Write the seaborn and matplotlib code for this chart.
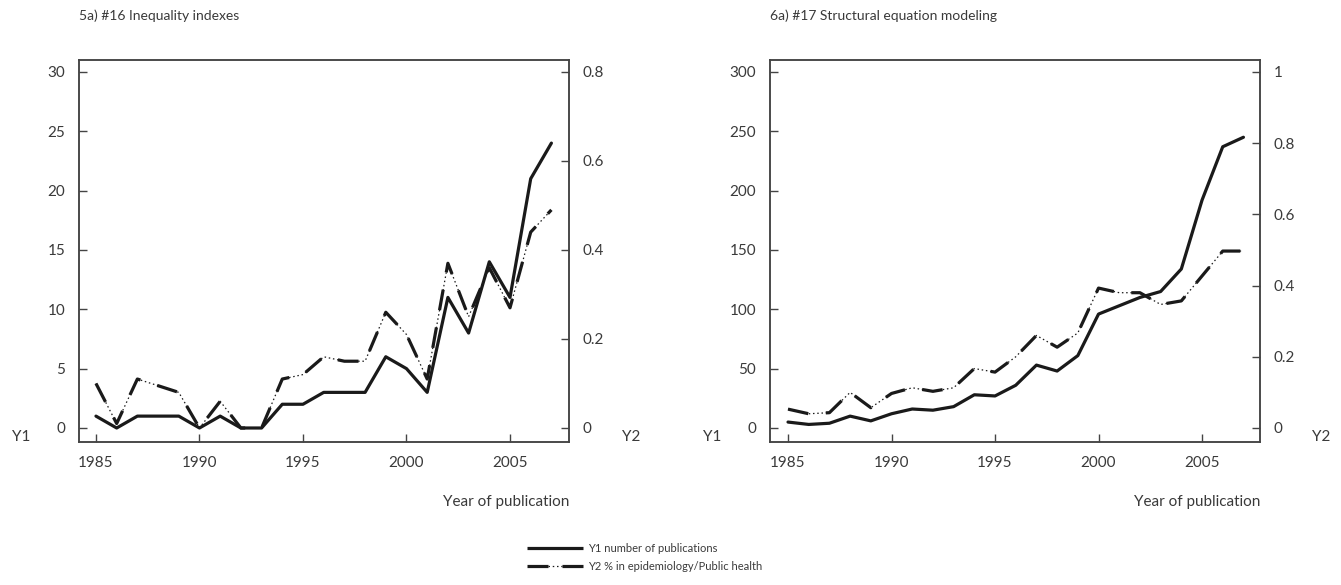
import matplotlib
matplotlib.use("Agg")
import matplotlib.pyplot as plt
import seaborn as sns
import pandas as pd
from matplotlib.lines import Line2D

years = list(range(1985, 2008))

# Panel 5a) #16 Inequality indexes
ineq_y1 = [1, 0, 1, 1, 1, 0, 1, 0, 0, 2, 2, 3, 3, 3, 6, 5, 3, 11, 8, 14, 11, 21, 24]
ineq_y2 = [0.10, 0.01, 0.11, 0.095, 0.08, 0.0, 0.06, 0.0, 0.0, 0.11, 0.12, 0.16, 0.15,
           0.15, 0.26, 0.21, 0.11, 0.37, 0.25, 0.36, 0.27, 0.44, 0.49]

# Panel 6a) #17 Structural equation modeling
sem_y1 = [5, 3, 4, 10, 6, 12, 16, 15, 18, 28, 27, 36, 53, 48, 61, 96, 103, 110, 115,
          134, 192, 237, 245]
sem_y2 = [0.053, 0.04, 0.043, 0.10, 0.057, 0.097, 0.113, 0.103, 0.113, 0.167, 0.157,
          0.20, 0.26, 0.227, 0.267, 0.393, 0.38, 0.38, 0.347, 0.357, 0.427, 0.497, 0.497]

titles = ["5a) #16 Inequality indexes", "6a) #17 Structural equation modeling"]
xlabel = "Year of publication"
legend_labels = ["Y1 number of publications", "Y2 % in epidemiology/Public health"]

sns.set_theme(style="ticks")
plt.rcParams["font.family"] = ["Lato", "DejaVu Sans"]
TXT = "#3a3a3a"
plt.rcParams["text.color"] = TXT
plt.rcParams["xtick.color"] = TXT
plt.rcParams["ytick.color"] = TXT

fig = plt.figure(figsize=(13.41, 5.85), dpi=100)
W, H = 1341, 585


def fx(px):
    return px / W


def fy(py):
    return 1 - py / H


panels = [
    dict(left=79, y1=ineq_y1, y2=ineq_y2, y1lim=(-1.18, 31.0), y1ticks=[0, 5, 10, 15, 20, 25, 30],
         y2lim=(-1.18 / 37.5, 31.0 / 37.5), y2ticks=[0, 0.2, 0.4, 0.6, 0.8],
         y2labels=["0", "0.2", "0.4", "0.6", "0.8"], xlim=(1984.18, 2007.85)),
    dict(left=770, y1=sem_y1, y2=sem_y2, y1lim=(-11.8, 310.1), y1ticks=[0, 50, 100, 150, 200, 250, 300],
         y2lim=(-11.8 / 300, 310.1 / 300), y2ticks=[0, 0.2, 0.4, 0.6, 0.8, 1.0],
         y2labels=["0", "0.2", "0.4", "0.6", "0.8", "1"], xlim=(1984.13, 2007.8)),
]

SPINE = "#444444"
LW = 2.3
LC = "#1a1a1a"
DOT = (0, (1.2, 2.2))

for i, p in enumerate(panels):
    ax = fig.add_axes([fx(p["left"]), fy(442), 490 / W, 382 / H])
    ax2 = ax.twinx()
    df = pd.DataFrame({"year": years, "y1": p["y1"], "y2": p["y2"]})
    sns.lineplot(data=df, x="year", y="y1", ax=ax, color=LC, lw=LW)
    sns.lineplot(data=df, x="year", y="y2", ax=ax2, color=LC, lw=0.9, linestyle=DOT)
    sns.lineplot(data=df, x="year", y="y2", ax=ax2, color=LC, lw=LW,
                 linestyle=(0, (6.5, 5.5)))
    ax.set_xlim(p["xlim"])
    ax.set_ylim(p["y1lim"])
    ax2.set_ylim(p["y2lim"])
    ax.set_xticks([1985, 1990, 1995, 2000, 2005])
    ax.set_yticks(p["y1ticks"])
    ax2.set_yticks(p["y2ticks"])
    ax2.set_yticklabels(p["y2labels"])
    for a in (ax, ax2):
        a.set_xlabel("")
        a.set_ylabel("")
        for s in a.spines.values():
            s.set_color(SPINE)
            s.set_linewidth(1.1)
            s.set_visible(True)
    ax.tick_params(axis="both", direction="in", length=6, width=1, color=SPINE,
                   labelsize=11, pad=10)
    ax2.tick_params(axis="y", direction="in", length=6, width=1, color=SPINE,
                    labelsize=11, pad=10)
    fig.text(fx(p["left"]), fy(16), titles[i], fontsize=10, ha="left", va="center")
    fig.text(fx(p["left"] + 490), fy(502), xlabel, fontsize=11, ha="right", va="center")

fig.text(fx(21), fy(437), "Y1", fontsize=11, ha="center", va="center")
fig.text(fx(712), fy(437), "Y1", fontsize=11, ha="center", va="center")
fig.text(fx(631), fy(437), "Y2", fontsize=11, ha="center", va="center")
fig.text(fx(1321), fy(437), "Y2", fontsize=11, ha="center", va="center")


class Y2Handle:
    pass


class HandlerY2:
    def legend_artist(self, legend, orig_handle, fontsize, handlebox):
        x0 = -handlebox.xdescent
        w = handlebox.width
        ym = -handlebox.ydescent + handlebox.height / 2
        tr = handlebox.get_transform()
        parts = [
            Line2D([x0, x0 + 0.38 * w], [ym, ym], color=LC, lw=LW, solid_capstyle="butt"),
            Line2D([x0 + 0.38 * w, x0 + 0.62 * w], [ym, ym], color=LC, lw=0.9, linestyle=DOT),
            Line2D([x0 + 0.62 * w, x0 + w], [ym, ym], color=LC, lw=LW, solid_capstyle="butt"),
        ]
        for a in parts:
            a.set_transform(tr)
            handlebox.add_artist(a)
        return parts[0]


h1 = Line2D([], [], color=LC, lw=LW, solid_capstyle="butt")
h2 = Y2Handle()
fig.legend([h1, h2], legend_labels, loc="center",
           bbox_to_anchor=(fx(645), fy(557.5)), frameon=False, fontsize=8,
           handlelength=5, handletextpad=0.5, labelspacing=0.6,
           handler_map={Y2Handle: HandlerY2()})

fig.savefig("out.png", dpi=100)
